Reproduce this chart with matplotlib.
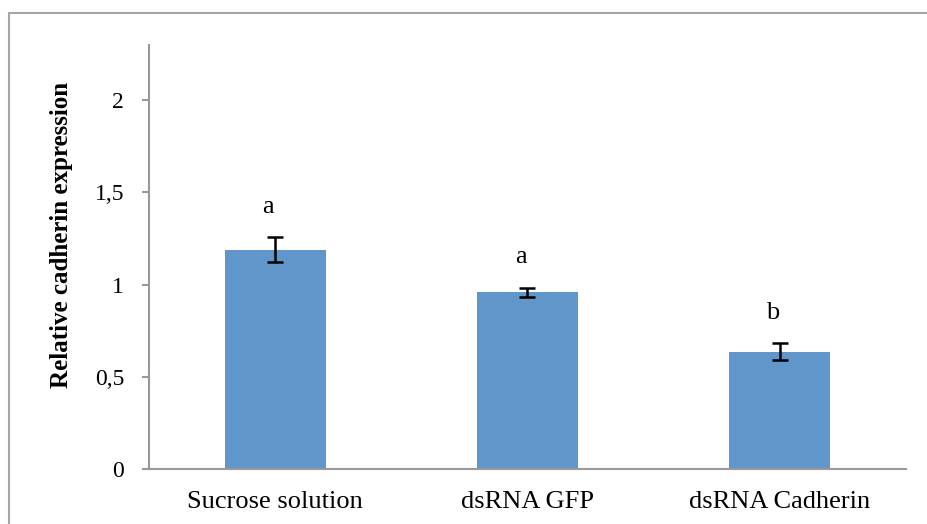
import matplotlib.pyplot as plt
from matplotlib.patches import Rectangle

# Datos
grupos = ["Sucrose solution", "dsRNA GFP", "dsRNA Cadherin"]
expresion = [1.19, 0.958, 0.636]
error = [0.067, 0.025, 0.045]
letras = ["a", "a", "b"]
ticks_y = [0, 0.5, 1, 1.5, 2]
etiquetas_y = ["0", "0,5", "1", "1,5", "2"]

plt.rcParams["font.family"] = ["Liberation Serif", "DejaVu Serif"]

fig = plt.figure(figsize=(9.27, 5.24), dpi=100)
ax = fig.add_axes([149 / 927, 55 / 524, 757 / 927, 424 / 524])

# Marco gris alrededor de la figura (cortado a la derecha y abajo)
fig.patches.append(
    Rectangle((9 / 927, -0.1), 1.2, 1 - 13 / 524 + 0.1,
              transform=fig.transFigure, fill=False,
              edgecolor="#a6a6a6", linewidth=1.5)
)

x = range(len(grupos))
ax.bar(x, expresion, width=0.4, color="#6096c9", zorder=2)
ax.errorbar(x, expresion, yerr=error, fmt="none", ecolor="black",
            elinewidth=1.8, capsize=6, capthick=1.8, zorder=3)

# Letras de significancia
for i, (v, e, l) in enumerate(zip(expresion, error, letras)):
    ax.annotate(l, (i, v + e), xytext=(-5, 22), textcoords="offset points",
                ha="center", va="center", fontsize=19)

ax.set_xlim(-0.5, 2.5)
ax.set_ylim(0, 2.3)
ax.set_yticks(ticks_y)
ax.set_yticklabels(etiquetas_y)
ax.set_xticks(list(x))
ax.set_xticklabels(grupos, fontsize=19)

for lado in ["top", "right"]:
    ax.spines[lado].set_visible(False)
for lado in ["left", "bottom"]:
    ax.spines[lado].set_color("#999999")
    ax.spines[lado].set_linewidth(1.5)

ax.tick_params(axis="y", length=5, width=1.5, color="#999999",
               labelsize=17, pad=13)
ax.tick_params(axis="x", length=0, pad=16)

ax.set_ylabel("Relative cadherin expression", fontsize=18, fontweight="bold")
ax.yaxis.set_label_coords(-0.1, 0.552)

fig.savefig("out.png", dpi=100)
